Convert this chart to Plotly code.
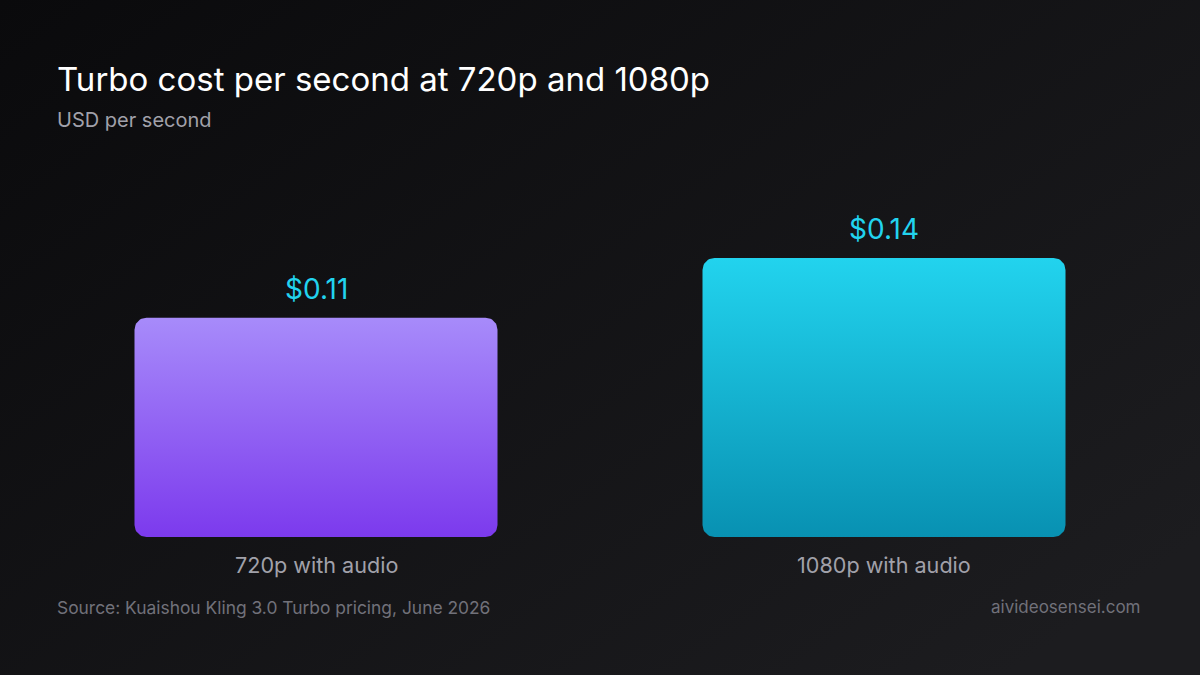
import base64
import numpy as np
import plotly.graph_objects as go

# ---- data ----
categories = ["720p with audio", "1080p with audio"]
values = [0.11, 0.14]
value_labels = ["$0.11", "$0.14"]
title_text = "Turbo cost per second at 720p and 1080p"
subtitle_text = "USD per second"
source_text = "Source: Kuaishou Kling 3.0 Turbo pricing, June 2026"
site_text = "aivideosensei.com"

# ---- styling ----
W, H = 1200, 675
ML, MR, MT, MB = 32, 32, 218, 138
XR = [-0.5, 1.5]
YR = [0, 0.16]
plot_w = W - ML - MR
plot_h = H - MT - MB
px_x = plot_w / (XR[1] - XR[0])
px_y = plot_h / (YR[1] - YR[0])
bar_w = 363 / px_x
radius_px = 12
grads = [["#7c3aed", "#a78bfa"], ["#0891b2", "#22d3ee"]]
FONT = "Inter"


def rounded_rect(xc, top):
    rx = radius_px / px_x
    ry = radius_px / px_y
    x0, x1 = xc - bar_w / 2, xc + bar_w / 2
    y0, y1 = 0.0, top
    xs, ys = [], []
    corners = [
        (x1 - rx, y1 - ry, 0, 90),
        (x0 + rx, y1 - ry, 90, 180),
        (x0 + rx, y0 + ry, 180, 270),
        (x1 - rx, y0 + ry, 270, 360),
    ]
    for cx, cy, a0, a1 in corners:
        t = np.radians(np.linspace(a0, a1, 12))
        xs.extend(cx + rx * np.cos(t))
        ys.extend(cy + ry * np.sin(t))
    xs.append(xs[0])
    ys.append(ys[0])
    return xs, ys


fig = go.Figure()
for i, (cat, v) in enumerate(zip(categories, values)):
    xs, ys = rounded_rect(i, v)
    fig.add_trace(go.Scatter(
        x=xs, y=ys, mode="lines", fill="toself",
        line=dict(width=0, color="rgba(0,0,0,0)"),
        fillgradient=dict(type="vertical",
                          colorscale=[[0, grads[i][0]], [1, grads[i][1]]]),
        hoverinfo="skip", showlegend=False,
    ))

annotations = []
for i, (cat, v, lab) in enumerate(zip(categories, values, value_labels)):
    annotations.append(dict(x=i, y=v, xref="x", yref="y", text=lab,
                            showarrow=False, yanchor="middle", yshift=29,
                            font=dict(family=FONT, size=28, color="#22d3ee")))
    annotations.append(dict(x=i, y=0, xref="x", yref="y", text=cat,
                            showarrow=False, yanchor="middle", yshift=-28,
                            font=dict(family=FONT, size=21.6, color="#a1a1aa")))


def px_to_paper_x(px):
    return (px - ML) / plot_w


def px_to_paper_y(py):
    return (H - MB - py) / plot_h


annotations += [
    dict(xref="paper", yref="paper", x=px_to_paper_x(55), y=px_to_paper_y(79),
         xanchor="left", yanchor="middle", showarrow=False, text=title_text,
         font=dict(family=FONT, size=33, color="#ffffff")),
    dict(xref="paper", yref="paper", x=px_to_paper_x(55), y=px_to_paper_y(120),
         xanchor="left", yanchor="middle", showarrow=False, text=subtitle_text,
         font=dict(family=FONT, size=20, color="#a1a1aa")),
    dict(xref="paper", yref="paper", x=px_to_paper_x(55), y=px_to_paper_y(607),
         xanchor="left", yanchor="middle", showarrow=False, text=source_text,
         font=dict(family=FONT, size=17.4, color="#71717a")),
    dict(xref="paper", yref="paper", x=px_to_paper_x(1142), y=px_to_paper_y(607),
         xanchor="right", yanchor="middle", showarrow=False, text=site_text,
         font=dict(family=FONT, size=17, color="#71717a")),
]

svg = (
    "<svg xmlns='http://www.w3.org/2000/svg' width='1200' height='675'>"
    "<defs><linearGradient id='g' x1='0' y1='0' x2='1' y2='0.8'>"
    "<stop offset='0' stop-color='#0a0a0c'/>"
    "<stop offset='1' stop-color='#1c1c1f'/>"
    "</linearGradient></defs>"
    "<rect width='1200' height='675' fill='url(#g)'/></svg>"
)
bg_uri = "data:image/svg+xml;base64," + base64.b64encode(svg.encode()).decode()

fig.update_layout(
    width=W, height=H,
    margin=dict(l=ML, r=MR, t=MT, b=MB, pad=0),
    paper_bgcolor="#121214",
    plot_bgcolor="rgba(0,0,0,0)",
    xaxis=dict(range=XR, visible=False, fixedrange=True),
    yaxis=dict(range=YR, visible=False, fixedrange=True),
    annotations=annotations,
    images=[dict(source=bg_uri, xref="paper", yref="paper",
                 x=-ML / plot_w, y=1 + MT / plot_h,
                 sizex=W / plot_w, sizey=H / plot_h,
                 xanchor="left", yanchor="top", sizing="stretch",
                 layer="below")],
    showlegend=False,
)

page_fix = (
    "document.documentElement.style.margin='0';"
    "document.body.style.margin='0';"
    "document.body.style.padding='0';"
    "document.body.style.background='#121214';"
    "document.body.style.overflow='hidden';"
)
fig.write_html("out.html", config={"displayModeBar": False}, post_script=page_fix)
